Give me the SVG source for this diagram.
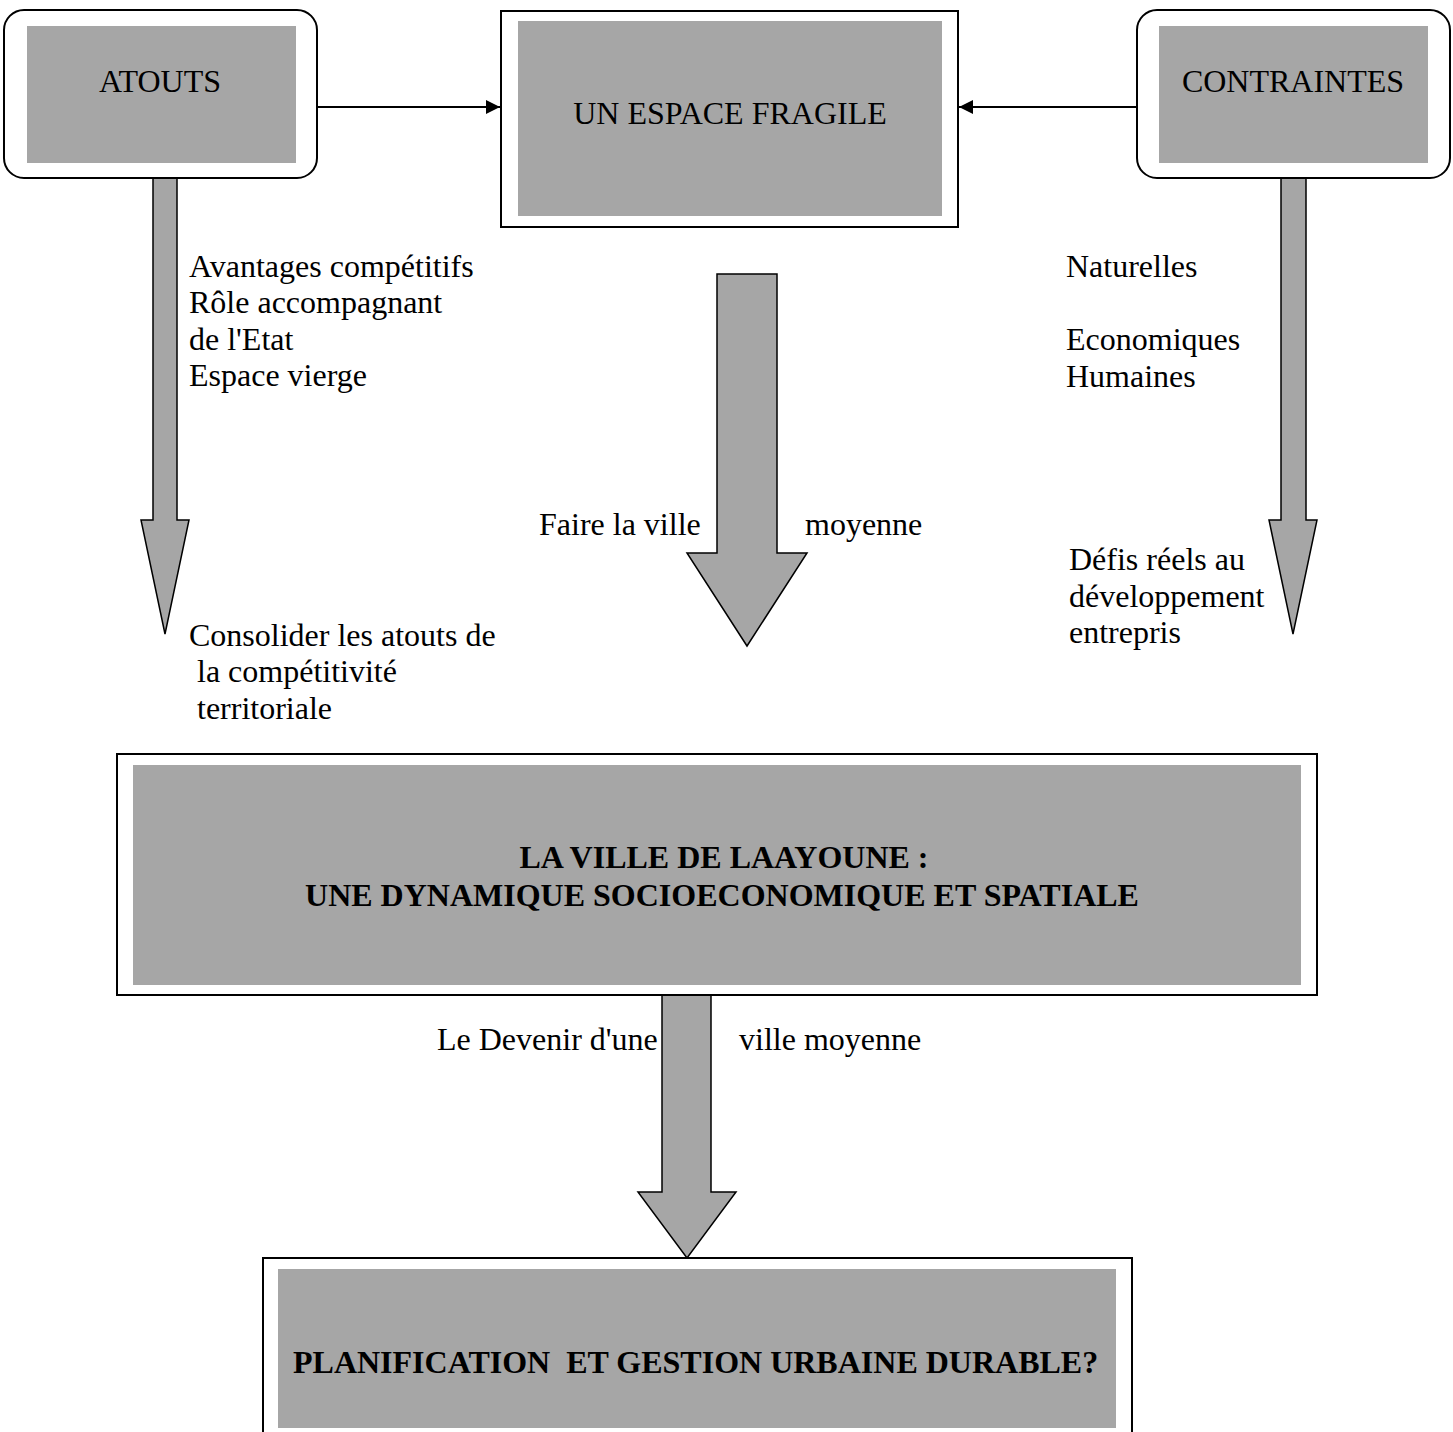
<svg xmlns="http://www.w3.org/2000/svg" width="1453" height="1432" viewBox="0 0 1453 1432">
<style>
.t{font-family:"Liberation Serif","Times New Roman",serif;font-size:32px;fill:#000}
.b{font-family:"Liberation Serif","Times New Roman",serif;font-size:32px;font-weight:bold;fill:#000;white-space:pre}
.outer{fill:#fff;stroke:#000;stroke-width:2}
.gray{fill:#a6a6a6;stroke:none}
.big{fill:#a6a6a6;stroke:#000;stroke-width:1.5;stroke-linejoin:miter}
.line{stroke:#000;stroke-width:2;fill:none}
</style>
<defs>
<marker id="ah" viewBox="0 0 10 10" refX="10" refY="5" markerWidth="15" markerHeight="14" markerUnits="userSpaceOnUse" orient="auto">
<path d="M0,0 L10,5 L0,10 Z" fill="#000"/>
</marker>
</defs>
<rect width="1453" height="1432" fill="#fff"/>
<g id="connectors">
<line class="line" x1="317" y1="107" x2="500" y2="107" marker-end="url(#ah)"/>
<line class="line" x1="1137" y1="107" x2="959" y2="107" marker-end="url(#ah)"/>
<polygon class="big" points="153,178 177,178 177,520 189,520 165,634 141,520 153,520"/>
<polygon class="big" points="717,274 777,274 777,553 807,553 747,646 687,553 717,553"/>
<polygon class="big" points="1281,178 1306,178 1306,520 1317,520 1293,634 1269,520 1281,520"/>
<polygon class="big" points="662,995 711,995 711,1192 736,1192 687,1258 638,1192 662,1192"/>
</g>
<g id="atouts">
<rect class="outer" x="4" y="10" width="313" height="168" rx="20" ry="20"/>
<rect class="gray" x="27" y="26" width="269" height="137"/>
<text class="t" x="160" y="92" text-anchor="middle">ATOUTS</text>
</g>
<g id="espace-fragile">
<rect class="outer" x="501" y="11" width="457" height="216"/>
<rect class="gray" x="518" y="21" width="424" height="195"/>
<text class="t" x="730" y="124" text-anchor="middle">UN ESPACE FRAGILE</text>
</g>
<g id="contraintes">
<rect class="outer" x="1137" y="10" width="313" height="168" rx="20" ry="20"/>
<rect class="gray" x="1159" y="26" width="269" height="137"/>
<text class="t" x="1293" y="92" text-anchor="middle">CONTRAINTES</text>
</g>
<g id="labels-atouts">
<text class="t" x="189" y="277">Avantages compétitifs</text>
<text class="t" x="189" y="313">Rôle accompagnant</text>
<text class="t" x="189" y="350">de l'Etat</text>
<text class="t" x="189" y="386">Espace vierge</text>
<text class="t" x="189" y="646">Consolider les atouts de</text>
<text class="t" x="197" y="682">la compétitivité</text>
<text class="t" x="197" y="719">territoriale</text>
</g>
<g id="labels-contraintes">
<text class="t" x="1066" y="277">Naturelles</text>
<text class="t" x="1066" y="350">Economiques</text>
<text class="t" x="1066" y="387">Humaines</text>
<text class="t" x="1069" y="570">Défis réels au</text>
<text class="t" x="1069" y="607">développement</text>
<text class="t" x="1069" y="643">entrepris</text>
</g>
<g id="labels-middle">
<text class="t" x="539" y="535">Faire la ville</text>
<text class="t" x="805" y="535">moyenne</text>
<text class="t" x="437" y="1050">Le Devenir d'une</text>
<text class="t" x="739" y="1050">ville moyenne</text>
</g>
<g id="laayoune">
<rect class="outer" x="117" y="754" width="1200" height="241"/>
<rect class="gray" x="133" y="765" width="1168" height="220"/>
<text class="b" x="724" y="868" text-anchor="middle">LA VILLE DE LAAYOUNE :</text>
<text class="b" x="722" y="906" text-anchor="middle">UNE DYNAMIQUE SOCIOECONOMIQUE ET SPATIALE</text>
</g>
<g id="planification">
<rect class="outer" x="263" y="1258" width="869" height="190"/>
<rect class="gray" x="278" y="1269" width="838" height="159"/>
<text class="b" x="293" y="1373">PLANIFICATION  ET GESTION URBAINE DURABLE?</text>
</g>
</svg>
